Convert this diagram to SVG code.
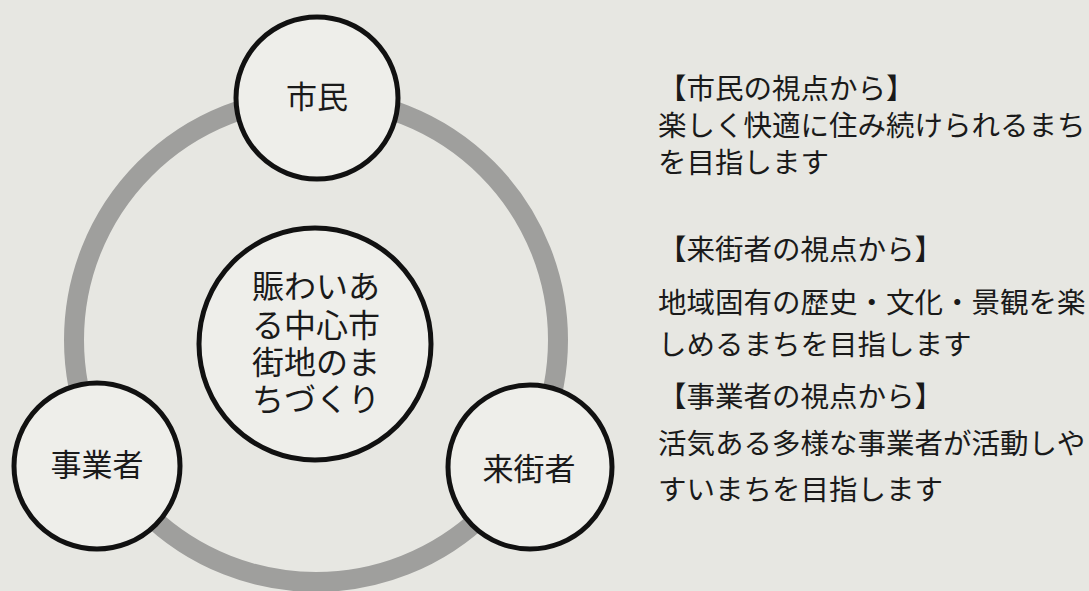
<svg xmlns="http://www.w3.org/2000/svg" width="1089" height="591" viewBox="0 0 1089 591">
  <style>
    .node { fill: #eeeeea; stroke: #111; stroke-width: 5; }
    .ring { fill: none; stroke: #9f9f9d; stroke-width: 20; }
    .lbl { font-family: "Noto Sans CJK JP", "Noto Sans", sans-serif; fill: #1a1a1a; text-anchor: middle; }
    .node-lbl { font-size: 31px; }
    .center-lbl { font-size: 32px; }
    .desc { font-family: "Noto Sans CJK JP", "Noto Sans", sans-serif; fill: #1a1a1a; font-size: 28.5px; }
  </style>
  <rect x="0" y="0" width="1089" height="591" fill="#e7e7e2"/>
  <g id="connectors">
    <circle class="ring" cx="316" cy="340" r="242"/>
  </g>
  <g id="node-shimin">
    <circle class="node" cx="317" cy="98" r="81"/>
    <text class="lbl node-lbl" x="317" y="108">市民</text>
  </g>
  <g id="node-center">
    <circle class="node" cx="315" cy="344" r="116"/>
    <text class="lbl center-lbl" x="316" y="298"><tspan x="316" y="298">賑わいあ</tspan><tspan x="316" y="337">る中心市</tspan><tspan x="316" y="374">街地のま</tspan><tspan x="316" y="411">ちづくり</tspan></text>
  </g>
  <g id="node-jigyosha">
    <circle class="node" cx="97" cy="466" r="83"/>
    <text class="lbl node-lbl" x="97" y="476">事業者</text>
  </g>
  <g id="node-raigaisha">
    <circle class="node" cx="530" cy="467" r="82"/>
    <text class="lbl node-lbl" x="529" y="480">来街者</text>
  </g>
  <g id="descriptions">
    <text class="desc" x="658" y="99">【市民の視点から】</text>
    <text class="desc" x="658" y="136">楽しく快適に住み続けられるまち</text>
    <text class="desc" x="658" y="173">を目指します</text>
    <text class="desc" x="658" y="260">【来街者の視点から】</text>
    <text class="desc" x="658" y="313">地域固有の歴史・文化・景観を楽</text>
    <text class="desc" x="658" y="355">しめるまちを目指します</text>
    <text class="desc" x="658" y="407">【事業者の視点から】</text>
    <text class="desc" x="658" y="454">活気ある多様な事業者が活動しや</text>
    <text class="desc" x="658" y="500">すいまちを目指します</text>
  </g>
</svg>
